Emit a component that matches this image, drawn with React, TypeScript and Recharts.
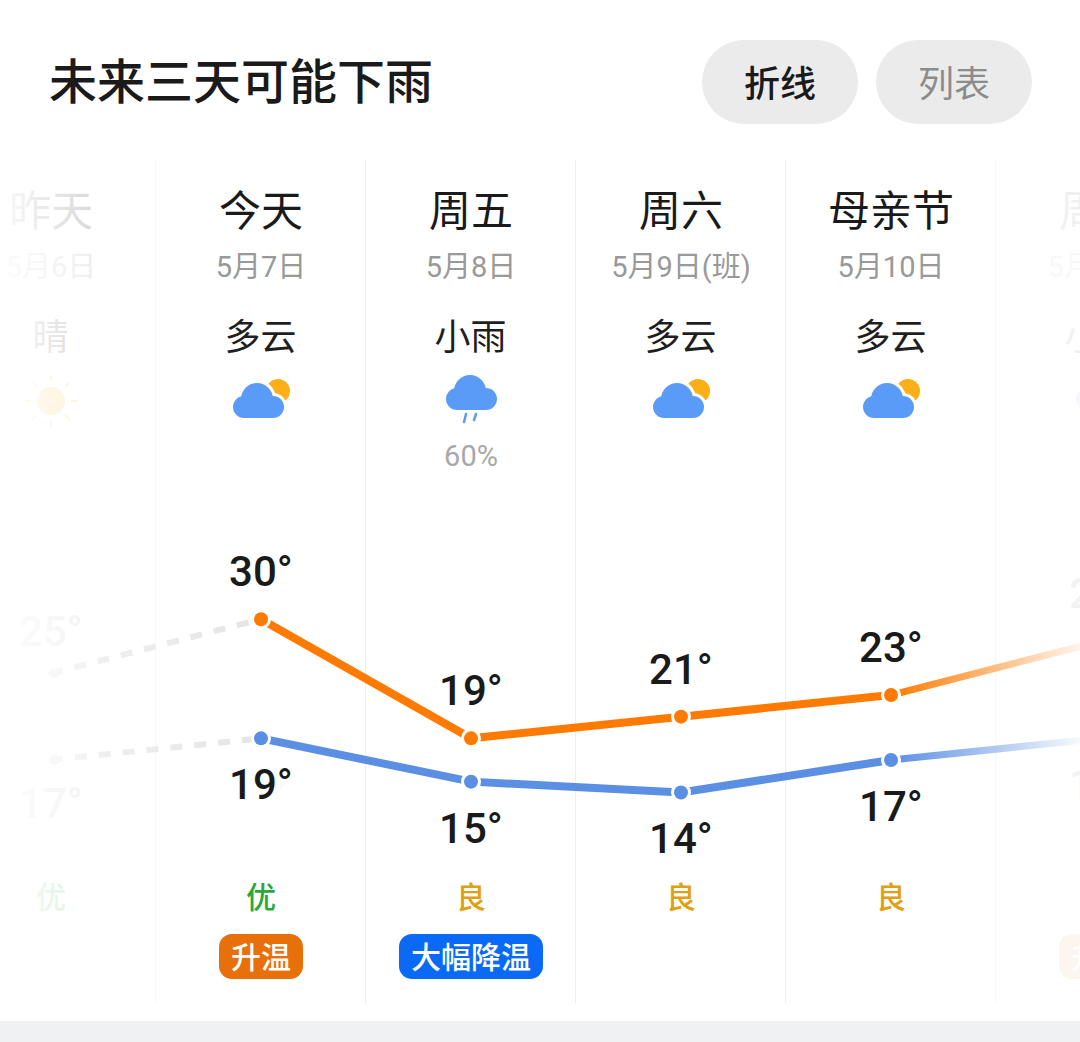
import { ComposedChart, Line, XAxis, YAxis } from "recharts";

const days = ["昨天", "今天", "周五", "周六", "母亲节", "周日"];
const dates = ["5月6日", "5月7日", "5月8日", "5月9日(班)", "5月10日", "5月11日"];
const weather = ["晴", "多云", "小雨", "多云", "多云", "小雨"];
const rainChance = ["", "", "60%", "", "", ""];
const highs = [25, 30, 19, 21, 23, 28];
const lows = [17, 19, 15, 14, 17, 19];
const airQuality = ["优", "优", "良", "良", "良", "良"];
const tags = ["", "升温", "大幅降温", "", "", "升温"];

const FONT = '"Noto Sans CJK SC", "Noto Sans", sans-serif';
const NUM_FONT = 'Roboto, "Noto Sans CJK SC", sans-serif';
const ORANGE = "#ff7a00";
const BLUE = "#5b8fe3";

// first and last rows only exist for the faded columns at the edges
const rows = days.map((day, i) => ({
  day,
  highPast: i <= 1 ? highs[i] : null,
  highNow: i >= 1 && i <= 4 ? highs[i] : null,
  highNext: i >= 4 ? highs[i] : null,
  lowPast: i <= 1 ? lows[i] : null,
  lowNow: i >= 1 && i <= 4 ? lows[i] : null,
  lowNext: i >= 4 ? lows[i] : null,
}));

const columnOpacity = (i: number) => (i === 0 ? 0.17 : i === 5 ? 0.06 : 1);

function CloudShape({ x, top, fill }: { x: number; top: number; fill: string }) {
  return (
    <g fill={fill}>
      <circle cx={x - 17} cy={top + 24} r={11} />
      <circle cx={x - 4} cy={top + 16} r={16} />
      <circle cx={x + 12} cy={top + 24} r={11} />
      <rect x={x - 17} y={top + 20} width={29} height={15} />
    </g>
  );
}

function WeatherIcon({ kind, x }: { kind: string; x: number }) {
  if (kind === "晴") {
    const rays = [0, 45, 90, 135, 180, 225, 270, 315];
    return (
      <g>
        <circle cx={x} cy={401} r={14} fill="#fbb516" />
        {rays.map((a) => (
          <line
            key={a}
            x1={x}
            y1={381}
            x2={x}
            y2={375}
            stroke="#fbb516"
            strokeWidth={2}
            transform={`rotate(${a} ${x} 401)`}
          />
        ))}
      </g>
    );
  }
  if (kind === "小雨") {
    return (
      <g>
        <CloudShape x={x + 3} top={375} fill="#5b9bf8" />
        <line x1={x - 5} y1={414} x2={x - 7} y2={422} stroke="#5b9bf8" strokeWidth={2.5} strokeLinecap="round" />
        <line x1={x + 5} y1={414} x2={x + 3} y2={420} stroke="#5b9bf8" strokeWidth={2.5} strokeLinecap="round" />
      </g>
    );
  }
  return (
    <g>
      <circle cx={x + 17} cy={391} r={12} fill="#fcaf17" />
      <g stroke="#fff" strokeWidth={6}>
        <CloudShape x={x} top={383} fill="#fff" />
      </g>
      <CloudShape x={x} top={383} fill="#5b9bf8" />
    </g>
  );
}

function HeaderTick({ x, payload }: any) {
  const i = payload.index;
  return (
    <g opacity={columnOpacity(i)} textAnchor="middle">
      <text x={x} y={226} fontSize={42} fill="#1a1a1a" fontFamily={FONT}>
        {days[i]}
      </text>
      <text x={x} y={277} fontSize={29} fill="#999999" fontFamily={NUM_FONT}>
        {dates[i]}
      </text>
      <text x={x - 0.5} y={350} fontSize={36} fill="#1f1f1f" fontFamily={FONT}>
        {weather[i]}
      </text>
      <WeatherIcon kind={weather[i]} x={x} />
      <text x={x} y={466} fontSize={29} fill="#a8a8a8" fontFamily={NUM_FONT}>
        {rainChance[i]}
      </text>
    </g>
  );
}

function FooterTick({ x, payload }: any) {
  const i = payload.index;
  const tag = tags[i];
  const tagWidth = tag.length * 30 + 24;
  return (
    <g textAnchor="middle" opacity={columnOpacity(i)}>
      <text
        x={x}
        y={908}
        fontSize={30}
        fontWeight={500}
        fill={airQuality[i] === "优" ? "#2aa83c" : "#e0a012"}
        fontFamily={FONT}
      >
        {airQuality[i]}
      </text>
      {tag && (
        <g>
          <rect
            x={x - tagWidth / 2}
            y={934}
            width={tagWidth}
            height={45}
            rx={13}
            fill={tag === "升温" ? "#e8700a" : "#0a69f5"}
          />
          <text x={x} y={968} fontSize={30} fontWeight={500} fill="#fff" fontFamily={FONT}>
            {tag}
          </text>
        </g>
      )}
    </g>
  );
}

const tempLabel = (gap: number, opacity: number) => (props: any) => {
  const { x, y, value } = props;
  if (value == null) return null;
  return (
    <text
      x={x}
      y={y + gap}
      textAnchor="middle"
      fontSize={42}
      fontWeight={500}
      fill="#1a1a1a"
      opacity={opacity}
      fontFamily={'Roboto, "Noto Sans", sans-serif'}
    >
      {value}°
    </text>
  );
};

const onlyIndex = (render: (p: any) => any, idx: number) => (props: any) =>
  props.index === idx ? render(props) : null;

const ringDot = (color: string) => (props: any) => {
  const { cx, cy, index, value } = props;
  if (value == null || cy == null) return <g key={index} />;
  return (
    <g key={index}>
      <circle cx={cx} cy={cy} r={10} fill="#fff" />
      <circle cx={cx} cy={cy} r={7} fill={color} />
    </g>
  );
};

// yesterday only gets a faint blob where its dot would be
const faintDot = (props: any) => {
  const { cx, cy, index } = props;
  if (index !== 0 || cy == null) return <g key={index} />;
  return <circle key={index} cx={cx + 3} cy={cy} r={5} fill="#f4f4f4" />;
};

function Pill({ text, left, color, weight }: { text: string; left: number; color: string; weight: number }) {
  return (
    <div
      style={{
        position: "absolute",
        left,
        top: 40,
        width: 156,
        height: 84,
        borderRadius: 42,
        background: "#ebebeb",
        color,
        fontSize: 36,
        fontWeight: weight,
        lineHeight: "82px",
        textAlign: "center",
        fontFamily: FONT,
      }}
    >
      {text}
    </div>
  );
}

export default function App() {
  return (
    <div
      style={{
        position: "absolute",
        left: 0,
        top: 0,
        width: 1080,
        height: 1042,
        overflow: "hidden",
        background: "#fff",
      }}
    >
      <div
        style={{
          position: "absolute",
          left: 49,
          top: 43,
          fontSize: 48,
          fontWeight: 500,
          lineHeight: "70px",
          color: "#1a1a1a",
          fontFamily: FONT,
          whiteSpace: "nowrap",
        }}
      >
        未来三天可能下雨
      </div>
      <Pill text="折线" left={702} color="#1a1a1a" weight={500} />
      <Pill text="列表" left={876} color="#8c8c8c" weight={400} />

      {/* column dividers sit underneath the chart so the lines cross over them */}
      {days.slice(1).map((d, i) => (
        <div
          key={d}
          style={{
            position: "absolute",
            left: 155 + i * 210,
            top: 160,
            width: 1,
            height: 843,
            background: i === 0 || i === 4 ? "#f8f8f8" : "#eeeeee",
          }}
        />
      ))}

      <div style={{ position: "absolute", left: -54, top: 0 }}>
        <ComposedChart
          width={1260}
          height={1042}
          data={rows}
          margin={{ top: 510, right: 0, bottom: 97, left: 0 }}
        >
          <defs>
            <linearGradient id="fadeOrange" x1="0" y1="0" x2="1" y2="0">
              <stop offset="0%" stopColor={ORANGE} stopOpacity={1} />
              <stop offset="90%" stopColor={ORANGE} stopOpacity={0.08} />
            </linearGradient>
            <linearGradient id="fadeBlue" x1="0" y1="0" x2="1" y2="0">
              <stop offset="0%" stopColor={BLUE} stopOpacity={1} />
              <stop offset="90%" stopColor={BLUE} stopOpacity={0.05} />
            </linearGradient>
            <linearGradient id="fadeGrey" x1="0" y1="0" x2="1" y2="0">
              <stop offset="0%" stopColor="#e4e4e4" stopOpacity={0.45} />
              <stop offset="100%" stopColor="#e4e4e4" stopOpacity={1} />
            </linearGradient>
          </defs>
          <XAxis
            xAxisId="top"
            dataKey="day"
            orientation="top"
            scale="band"
            height={1}
            axisLine={false}
            tickLine={false}
            interval={0}
            tick={HeaderTick}
          />
          <XAxis
            xAxisId="bottom"
            dataKey="day"
            orientation="bottom"
            scale="band"
            height={1}
            axisLine={false}
            tickLine={false}
            interval={0}
            tick={FooterTick}
          />
          <YAxis hide type="number" domain={[0, 40]} />

          <Line
            xAxisId="top"
            dataKey="highPast"
            stroke="url(#fadeGrey)"
            strokeWidth={6}
            strokeDasharray="12 12"
            dot={faintDot}
            label={onlyIndex(tempLabel(-27, 0.05), 0)}
            isAnimationActive={false}
          />
          <Line
            xAxisId="top"
            dataKey="lowPast"
            stroke="url(#fadeGrey)"
            strokeWidth={6}
            strokeDasharray="12 12"
            dot={faintDot}
            label={onlyIndex(tempLabel(58, 0.05), 0)}
            isAnimationActive={false}
          />
          <Line
            xAxisId="top"
            dataKey="highNext"
            stroke="url(#fadeOrange)"
            strokeWidth={7}
            dot={false}
            label={onlyIndex(tempLabel(-33, 0.05), 5)}
            isAnimationActive={false}
          />
          <Line
            xAxisId="top"
            dataKey="lowNext"
            stroke="url(#fadeBlue)"
            strokeWidth={7}
            dot={false}
            label={onlyIndex(tempLabel(61, 0.05), 5)}
            isAnimationActive={false}
          />
          <Line
            xAxisId="top"
            dataKey="highNow"
            stroke={ORANGE}
            strokeWidth={8}
            dot={ringDot(ORANGE)}
            label={tempLabel(-33, 1)}
            isAnimationActive={false}
          />
          <Line
            xAxisId="top"
            dataKey="lowNow"
            stroke={BLUE}
            strokeWidth={8}
            dot={ringDot(BLUE)}
            label={tempLabel(61, 1)}
            isAnimationActive={false}
          />
        </ComposedChart>
      </div>

      {/* edges of the scroller fade out */}
      <div
        style={{
          position: "absolute",
          left: 0,
          top: 160,
          width: 100,
          height: 860,
          background: "linear-gradient(to right, rgba(255,255,255,0.85), rgba(255,255,255,0))",
        }}
      />
      <div style={{ position: "absolute", left: 0, top: 1021, width: 1080, height: 21, background: "#f0f1f3" }} />
    </div>
  );
}
